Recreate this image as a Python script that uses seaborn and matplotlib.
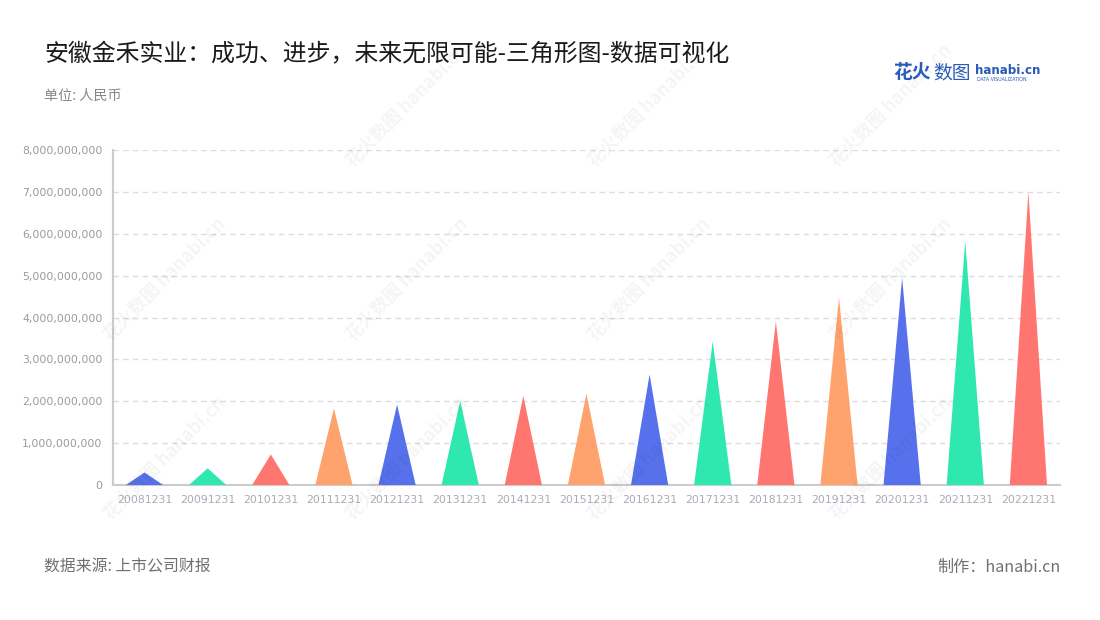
import matplotlib
matplotlib.use("Agg")
import matplotlib.pyplot as plt
from matplotlib.ticker import FuncFormatter, MultipleLocator
import seaborn as sns
import pandas as pd

# data
dates = ["20081231", "20091231", "20101231", "20111231", "20121231",
         "20131231", "20141231", "20151231", "20161231", "20171231",
         "20181231", "20191231", "20201231", "20211231", "20221231"]
values = [0.30e9, 0.40e9, 0.73e9, 1.83e9, 1.92e9,
          2.01e9, 2.13e9, 2.18e9, 2.64e9, 3.43e9,
          3.91e9, 4.48e9, 4.95e9, 5.82e9, 7.00e9]
palette = ["#5771ec", "#2ee8b0", "#ff7670", "#ffa36e"]

title = "安徽金禾实业：成功、进步，未来无限可能-三角形图-数据可视化"
unit_text = "单位: 人民币"
source_text = "数据来源: 上市公司财报"
credit_text = "制作：hanabi.cn"

sns.set_theme(style="white")
plt.rcParams["font.family"] = ["Noto Sans CJK SC", "DejaVu Sans"]

df = pd.DataFrame({"date": dates, "value": values})
colors = [palette[i % len(palette)] for i in range(len(dates))]

fig = plt.figure(figsize=(11, 6.2), dpi=100)
ax = fig.add_axes([0.1027, 0.2177, 0.8609, 0.5403])

# bars give the categorical positions; each is then redrawn as a triangle
sns.barplot(data=df, x="date", y="value", hue="date", palette=colors,
            width=0.59, legend=False, ax=ax)
for patch, c in zip(list(ax.patches), colors):
    x0, w, h = patch.get_x(), patch.get_width(), patch.get_height()
    ax.fill([x0, x0 + w / 2, x0 + w], [0, h, 0], color=c, lw=0, zorder=3)
    patch.remove()

ax.set_xlim(-0.5, len(dates) - 0.5)
ax.set_ylim(0, 8e9)
ax.yaxis.set_major_locator(MultipleLocator(1e9))
ax.yaxis.set_major_formatter(FuncFormatter(lambda v, p: f"{v:,.0f}"))
ax.set_xlabel("")
ax.set_ylabel("")

ax.grid(axis="y", color="#dddddd", linestyle=(0, (4, 3)), lw=1, zorder=0)
for s in ["top", "right"]:
    ax.spines[s].set_visible(False)
for s in ["left", "bottom"]:
    ax.spines[s].set_color("#cccccc")
    ax.spines[s].set_linewidth(1.5)
ax.tick_params(axis="both", colors="#cccccc", length=4, width=1,
               labelcolor="#9a9a9a", labelsize=7.8)
ax.tick_params(axis="x", labelcolor="#a8abb8", pad=3)
for lab in ax.get_xticklabels() + ax.get_yticklabels():
    lab.set_family("DejaVu Sans")

# faint watermarks
for wx in [0.37, 0.59, 0.81]:
    for wy in [0.83, 0.55, 0.26]:
        fig.text(wx, wy, "花火数图 hanabi.cn", rotation=45, fontsize=13,
                 color="#000000", alpha=0.045, ha="center", va="center",
                 fontweight="bold")
for wy in [0.55, 0.26]:
    fig.text(0.15, wy, "花火数图 hanabi.cn", rotation=45, fontsize=13,
             color="#000000", alpha=0.045, ha="center", va="center",
             fontweight="bold")

fig.text(0.04, 0.911, title, fontsize=17.2, color="#1a1a1a", va="center")
fig.text(0.04, 0.845, unit_text, fontsize=10.2, color="#888888", va="center")
fig.text(0.04, 0.085, source_text, fontsize=11.4, color="#707070", va="center")
fig.text(0.964, 0.085, credit_text, fontsize=11.6, color="#707070",
         va="center", ha="right")

# logo
fig.text(0.812, 0.883, "花火", fontsize=13.5, color="#2a5bb8",
         fontweight="bold", va="center")
fig.text(0.848, 0.883, "数图", fontsize=13.5, color="#2a5bb8", va="center")
fig.text(0.886, 0.887, "hanabi.cn", fontsize=8.6, color="#2a5bb8",
         fontweight="bold", va="center", family="DejaVu Sans")
fig.text(0.888, 0.872, "DATA VISUALIZATION", fontsize=3.4, color="#2a5bb8",
         va="center", family="DejaVu Sans")

fig.savefig("out.png", dpi=100)
